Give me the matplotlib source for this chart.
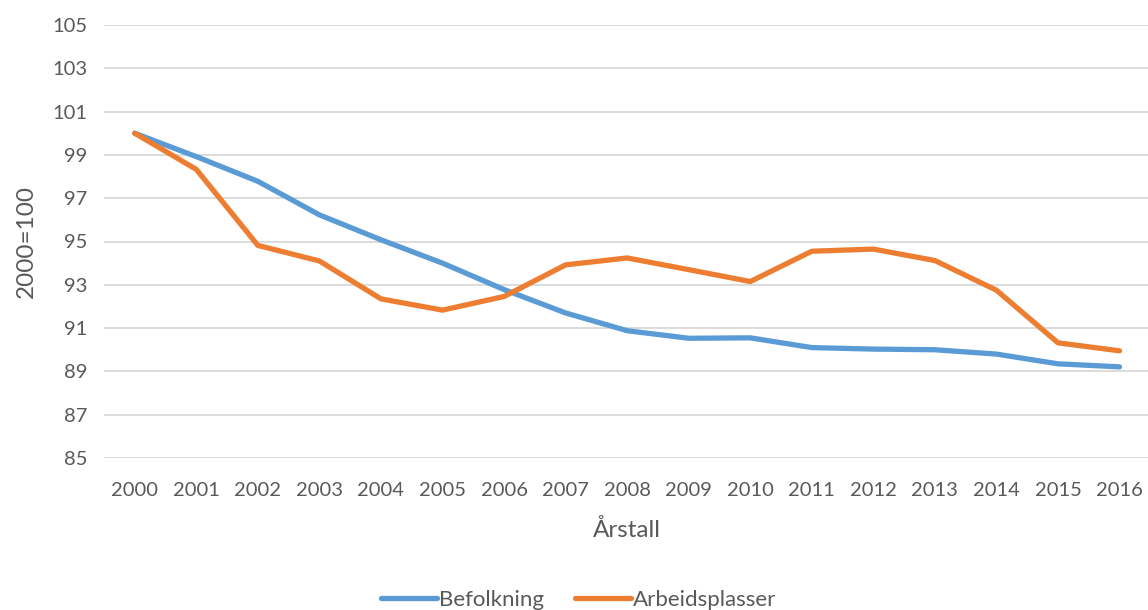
import matplotlib
matplotlib.use("Agg")
import matplotlib.pyplot as plt

years = [str(y) for y in range(2000, 2017)]
befolkning = [100.0, 98.92, 97.78, 96.23, 95.08, 94.0, 92.78, 91.7, 90.88, 90.53,
              90.55, 90.1, 90.03, 90.0, 89.8, 89.35, 89.21]
arbeidsplasser = [100.0, 98.33, 94.82, 94.1, 92.35, 91.83, 92.46, 93.92, 94.24, 93.7,
                  93.15, 94.55, 94.65, 94.12, 92.75, 90.32, 89.95]
yticks = list(range(85, 106, 2))

plt.rcParams['font.family'] = ['Lato', 'DejaVu Sans']
text_color = '#595959'

fig = plt.figure(figsize=(11.48, 6.10), dpi=100)
ax = fig.add_axes([104/1148, 1 - 458/610, (1148 - 104)/1148 + 0.002, (458 - 25)/610])

x = list(range(len(years)))
ax.plot(x, befolkning, color='#5B9BD5', lw=3.8, solid_capstyle='round', solid_joinstyle='round', label='Befolkning', zorder=3)
ax.plot(x, arbeidsplasser, color='#ED7D31', lw=3.8, solid_capstyle='round', solid_joinstyle='round', label='Arbeidsplasser', zorder=3)

ax.set_xlim(-0.5, len(years) - 0.5)
ax.set_ylim(85, 105)
ax.set_yticks(yticks)
ax.set_yticklabels([str(t) for t in yticks])
ax.set_xticks(x)
ax.set_xticklabels(years)
ax.grid(axis='y', color='#D9D9D9', lw=1.3)
ax.set_axisbelow(True)
for s in ax.spines.values():
    s.set_visible(False)
ax.tick_params(axis='both', length=0, labelsize=14.5, colors=text_color)
ax.tick_params(axis='x', pad=17)
ax.tick_params(axis='y', pad=12)

ax.set_xlabel('Årstall', fontsize=17.5, color=text_color, labelpad=15)
ax.set_ylabel('2000=100', fontsize=17.5, color=text_color, labelpad=11)

fig.legend(loc='center', bbox_to_anchor=(579/1148, 1 - 600/610), ncol=2, frameon=False,
           fontsize=16, labelcolor=text_color, handlelength=2.5, handletextpad=0.1,
           columnspacing=1.4)

fig.savefig('out.png', dpi=100)
